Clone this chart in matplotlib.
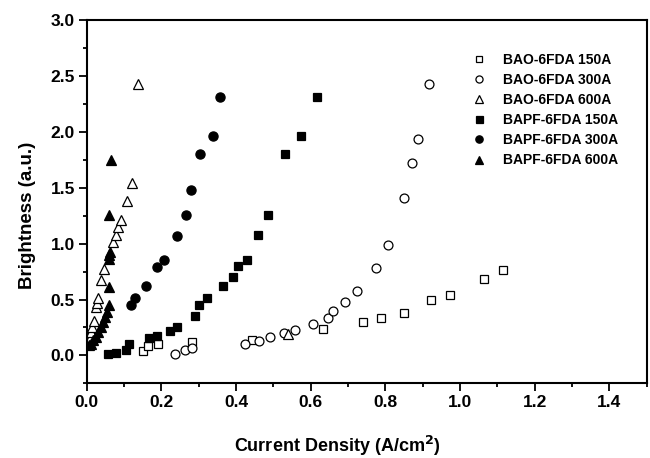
import matplotlib
matplotlib.use("Agg")
import matplotlib.pyplot as plt
from matplotlib.ticker import MultipleLocator

plt.rcParams["font.family"] = ["Liberation Sans", "DejaVu Sans"]
plt.rcParams["font.weight"] = "bold"

# BAO-6FDA, open symbols
bao150_x = [0.152, 0.165, 0.190, 0.281, 0.443, 0.634, 0.741, 0.787, 0.851, 0.922, 0.974, 1.065, 1.114]
bao150_y = [0.042, 0.087, 0.098, 0.117, 0.137, 0.239, 0.301, 0.332, 0.382, 0.499, 0.537, 0.687, 0.761]

bao300_x = [0.237, 0.264, 0.283, 0.423, 0.462, 0.490, 0.529, 0.558, 0.605, 0.646, 0.659, 0.693,
            0.724, 0.774, 0.807, 0.849, 0.870, 0.888, 0.916]
bao300_y = [0.015, 0.051, 0.066, 0.105, 0.128, 0.164, 0.203, 0.224, 0.284, 0.334, 0.394, 0.477,
            0.576, 0.782, 0.985, 1.408, 1.725, 1.934, 2.426]

bao600_x = [0.006, 0.009, 0.012, 0.015, 0.019, 0.024, 0.028, 0.031, 0.037, 0.047, 0.070, 0.078,
            0.083, 0.092, 0.107, 0.120, 0.138, 0.540]
bao600_y = [0.10, 0.16, 0.21, 0.25, 0.31, 0.43, 0.47, 0.51, 0.67, 0.77, 1.01, 1.08,
            1.15, 1.21, 1.38, 1.54, 2.43, 0.194]

# BAPF-6FDA, filled symbols
bapf150_x = [0.056, 0.079, 0.105, 0.113, 0.168, 0.189, 0.223, 0.243, 0.290, 0.302, 0.322, 0.366,
             0.393, 0.406, 0.429, 0.460, 0.485, 0.530, 0.574, 0.618]
bapf150_y = [0.015, 0.021, 0.045, 0.098, 0.155, 0.176, 0.218, 0.253, 0.355, 0.450, 0.516, 0.618,
             0.700, 0.797, 0.857, 1.074, 1.260, 1.800, 1.961, 2.312]

bapf300_x = [0.118, 0.130, 0.159, 0.187, 0.206, 0.243, 0.266, 0.278, 0.303, 0.337, 0.357]
bapf300_y = [0.454, 0.516, 0.618, 0.795, 0.857, 1.070, 1.256, 1.483, 1.800, 1.960, 2.310]

bapf600_x = [0.007, 0.012, 0.018, 0.025, 0.031, 0.037, 0.043, 0.049, 0.055, 0.060, 0.060, 0.059,
             0.061, 0.062, 0.061, 0.064]
bapf600_y = [0.090, 0.105, 0.134, 0.164, 0.210, 0.254, 0.300, 0.343, 0.388, 0.448, 0.610, 0.866,
             0.900, 0.925, 1.260, 1.750]

series = [
    ("BAO-6FDA 150A", bao150_x, bao150_y, "s", "white", 6.2),
    ("BAO-6FDA 300A", bao300_x, bao300_y, "o", "white", 6.4),
    ("BAO-6FDA 600A", bao600_x, bao600_y, "^", "white", 6.8),
    ("BAPF-6FDA 150A", bapf150_x, bapf150_y, "s", "black", 6.3),
    ("BAPF-6FDA 300A", bapf300_x, bapf300_y, "o", "black", 6.6),
    ("BAPF-6FDA 600A", bapf600_x, bapf600_y, "^", "black", 6.8),
]

fig = plt.figure(figsize=(6.5, 4.58), dpi=100)
ax = fig.add_axes([0.1334, 0.163, 0.8616, 0.7933])

for label, xs, ys, mk, fc, ms in series:
    ax.plot(xs, ys, ls="none", marker=mk, mfc=fc, mec="black", mew=0.9,
            ms=ms, label=label)

ax.set_xlim(0, 1.5)
ax.set_ylim(-0.25, 3.0)
ax.xaxis.set_major_locator(MultipleLocator(0.2))
ax.xaxis.set_minor_locator(MultipleLocator(0.1))
ax.yaxis.set_major_locator(MultipleLocator(0.5))
ax.yaxis.set_minor_locator(MultipleLocator(0.25))
ax.xaxis.set_major_formatter(plt.FormatStrFormatter("%.1f"))
ax.yaxis.set_major_formatter(plt.FormatStrFormatter("%.1f"))

for s in ax.spines.values():
    s.set_linewidth(1.5)
ax.tick_params(which="major", direction="out", length=5.5, width=1.3,
               labelsize=12.5, pad=3)
ax.tick_params(which="minor", direction="out", length=3, width=1.3)
ax.tick_params(top=False, right=False, which="both")

ax.set_xlabel("Current Density (A/cm$^\\mathbf{2}$)", fontsize=13,
              fontweight="bold")
ax.set_ylabel("Brightness (a.u.)", fontsize=13.5, fontweight="bold")
ax.xaxis.set_label_coords(0.447, -0.138)
ax.yaxis.set_label_coords(-0.09, 0.463)

leg = ax.legend(loc="upper left", bbox_to_anchor=(0.678, 0.925), frameon=False,
                fontsize=10, handlelength=1.0, handletextpad=1.22,
                labelspacing=0.44, markerscale=0.8, borderaxespad=0)
for t in leg.get_texts():
    t.set_fontweight("bold")

fig.savefig("out.png", dpi=100)
